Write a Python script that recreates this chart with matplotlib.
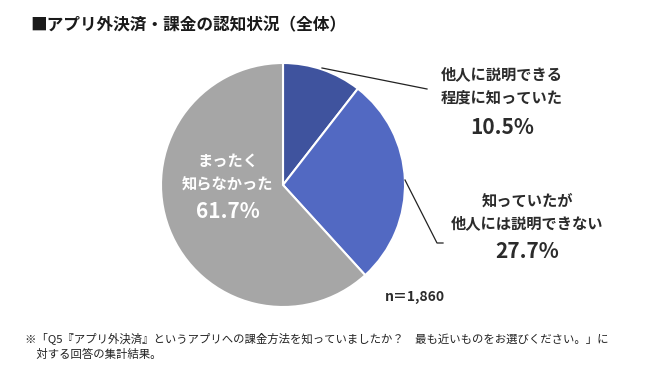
import matplotlib
matplotlib.use("Agg")
import matplotlib.pyplot as plt

plt.rcParams['font.family'] = ['Noto Sans CJK JP', 'DejaVu Sans']

LABELS = ["他人に説明できる\n程度に知っていた", "知っていたが\n他人には説明できない", "まったく\n知らなかった"]
VALUES = [10.5, 27.7, 61.7]
COLORS = ["#3f539e", "#5269c2", "#a6a6a6"]
TITLE = "■アプリ外決済・課金の認知状況（全体）"
N_TEXT = "n＝1,860"
NOTE = ("※「Q5『アプリ外決済』というアプリへの課金方法を知っていましたか？　最も近いものをお選びください。」に\n"
        "　対する回答の集計結果。")

W, H = 650, 390
fig = plt.figure(figsize=(W / 100, H / 100), dpi=100)
ax = fig.add_axes([0, 0, 1, 1])


def py(y):
    # pixel row -> data y
    return H - y


cx, cy, r = 283, py(185), 122
ax.pie(VALUES, colors=COLORS, startangle=90, counterclock=False,
       center=(cx, cy), radius=r, frame=True,
       wedgeprops=dict(edgecolor="white", linewidth=1.5))
ax.set_xlim(0, W)
ax.set_ylim(0, H)
ax.axis("off")

txt = "#2b2b2b"
ax.text(30, py(25), TITLE, fontsize=12, fontweight="bold", color="#1a1a1a",
        va="center", ha="left")

# outside labels
ax.text(502, py(86), LABELS[0], fontsize=11, fontweight="bold", color=txt,
        ha="center", va="center", linespacing=1.55)
ax.text(502, py(127), f"{VALUES[0]}%", fontsize=15, fontweight="bold",
        color=txt, ha="center", va="center")
ax.text(527, py(212), LABELS[1], fontsize=11, fontweight="bold", color=txt,
        ha="center", va="center", linespacing=1.55)
ax.text(527, py(252), f"{VALUES[1]}%", fontsize=15, fontweight="bold",
        color=txt, ha="center", va="center")

# inside label
ax.text(228, py(173), LABELS[2], fontsize=11, fontweight="bold", color="white",
        ha="center", va="center", linespacing=1.6)
ax.text(228, py(212), f"{VALUES[2]}%", fontsize=15, fontweight="bold",
        color="white", ha="center", va="center")

# leader lines
ax.plot([322, 427], [py(68), py(89)], color="#222222", lw=0.9)
ax.plot([405, 437, 443], [py(180), py(243), py(243)], color="#222222", lw=0.9)

ax.text(385, py(297), N_TEXT, fontsize=10, fontweight="bold", color=txt,
        ha="left", va="center")

ax.text(25, py(346), NOTE, fontsize=8.2, color="#222222", ha="left",
        va="center", linespacing=1.6)

fig.savefig("out.png", dpi=100, facecolor="white")
